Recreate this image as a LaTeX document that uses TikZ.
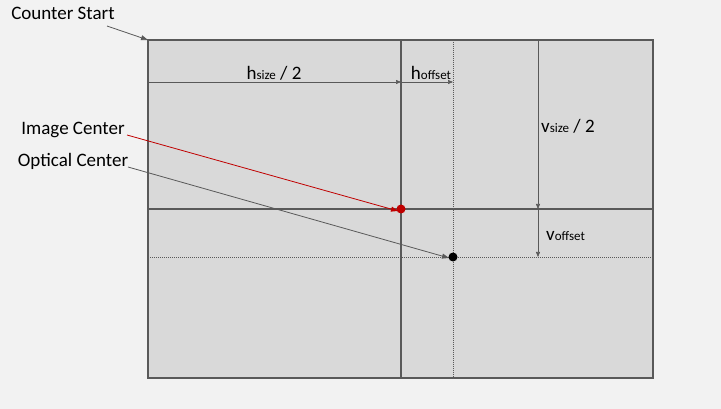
\documentclass[tikz,border=0pt]{standalone}
\usepackage{fontspec}
\setmainfont{Carlito}
\usetikzlibrary{arrows.meta}
\definecolor{pagegray}{HTML}{F2F2F2}
\definecolor{sensorgray}{HTML}{D9D9D9}
\definecolor{linegray}{HTML}{595959}
\definecolor{centerred}{HTML}{C00000}
\tikzset{
  frame/.style = {linegray, line width=1.8pt},
  guide/.style = {linegray, dash pattern=on 0.6pt off 1.4pt, line width=0.6pt},
  dim/.style = {linegray, line width=0.6pt, -{Triangle[length=5pt,width=4pt]}},
  pointer/.style = {line width=0.8pt, -{Triangle[length=7pt,width=5pt]}},
  lbl/.style = {inner sep=0pt, font=\fontsize{19}{22}\selectfont},
  big/.style = {inner sep=0pt, font=\fontsize{19}{22}\selectfont}
}
\newcommand{\dimtxt}[2]{{\fontsize{19}{22}\selectfont #1}{\fontsize{13}{15}\selectfont #2}}
\begin{document}
\begin{tikzpicture}[x=1pt, y=-1pt]
\useasboundingbox [fill=pagegray] (0,0) rectangle (721,409);
% sensor area
\draw [frame, fill=sensorgray] (148,40) rectangle (653,378);
\coordinate (tl) at (148,40);
\draw [guide] (453,40) -- (453,378);
\draw [guide] (148,257) -- (653,257);
\draw [frame] (401,40) -- (401,378);
\draw [frame] (148,209) -- (653,209);
% centers
\coordinate (ic) at (401,209);
\coordinate (oc) at (453,257);
% dimensions
\coordinate (hs) at (148,82);
\coordinate (hm) at (401,82);
\coordinate (ho) at (453,82);
\draw [dim] (hs) -- (hm);
\draw [dim] (hm) -- (ho);
\node [big] (hsize) at (274,73) {\dimtxt{h}{size} / 2};
\node [big] (hoff) at (431,73) {\dimtxt{h}{offset}};
\coordinate (vs) at (538,40);
\coordinate (vm) at (538,209);
\coordinate (vo) at (538,257);
\draw [dim] (vs) -- (vm);
\draw [dim] (vm) -- (vo);
\node [big, anchor=west] (vsize) at (541,126) {\dimtxt{v}{size} / 2};
\node [big, anchor=west] (voff) at (546,236) {\dimtxt{v}{offset}};
% labels
\node [lbl] (start) at (63,13) {Counter Start};
\node [lbl] (imgc) at (73,130) {Image Center};
\node [lbl] (optc) at (73,161) {Optical Center};
\draw [pointer, linegray] (107,26) -- (tl);
\draw [pointer, centerred] (127,135) -- ([xshift=-3pt,yshift=-2pt]ic);
\draw [pointer, linegray] (128,167) -- ([xshift=-4pt,yshift=-1pt]oc);
\fill [centerred] (ic) circle (4.5);
\fill [black] (oc) circle (4.5);
\end{tikzpicture}
\end{document}
